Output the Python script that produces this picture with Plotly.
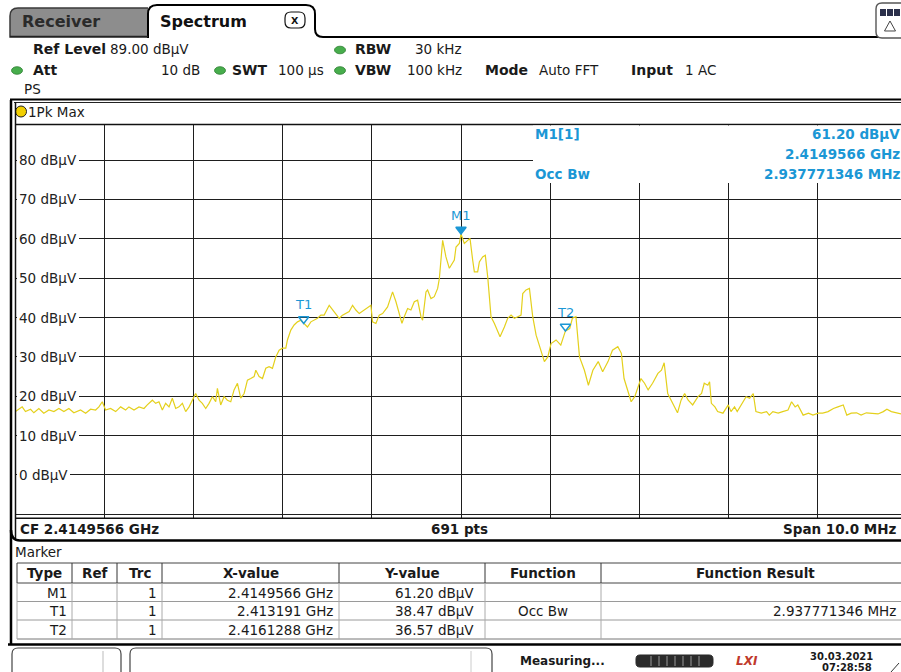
import plotly.graph_objects as go

# ---------------- data ----------------
CF_GHZ = 2.4149566
SPAN_MHZ = 10.0
REF_LEVEL = 89.0
RANGE_DB = 100.0

offset_mhz = [
    0.000, 0.075, 0.112, 0.169, 0.206, 0.262, 0.318, 0.375, 0.431, 0.487,
    0.543, 0.599, 0.655, 0.730, 0.787, 0.843, 0.899, 0.936, 0.974, 1.011,
    1.067, 1.124, 1.180, 1.236, 1.273, 1.330, 1.386, 1.442, 1.479, 1.536,
    1.573, 1.610, 1.648, 1.685, 1.723, 1.760, 1.798, 1.835, 1.873, 1.910,
    1.948, 1.985, 2.022, 2.060, 2.097, 2.135, 2.172, 2.210, 2.247, 2.266,
    2.303, 2.341, 2.378, 2.416, 2.453, 2.491, 2.528, 2.566, 2.603, 2.640,
    2.678, 2.697, 2.734, 2.772, 2.809, 2.846, 2.884, 2.921, 2.959, 2.996,
    3.034, 3.052, 3.090, 3.127, 3.165, 3.202, 3.234, 3.277, 3.315, 3.352,
    3.390, 3.427, 3.464, 3.521, 3.577, 3.633, 3.670, 3.708, 3.745, 3.783,
    3.820, 3.858, 3.914, 3.989, 4.007, 4.045, 4.082, 4.120, 4.176, 4.232,
    4.270, 4.307, 4.337, 4.363, 4.401, 4.438, 4.476, 4.513, 4.551, 4.569,
    4.607, 4.625, 4.663, 4.700, 4.738, 4.757, 4.794, 4.831, 4.869, 4.925,
    4.944, 4.981, 5.000, 5.037, 5.075, 5.101, 5.131, 5.150, 5.187, 5.206,
    5.243, 5.273, 5.300, 5.337, 5.375, 5.438, 5.487, 5.524, 5.562, 5.599,
    5.637, 5.674, 5.693, 5.730, 5.768, 5.805, 5.843, 5.880, 5.936, 5.974,
    6.011, 6.067, 6.120, 6.172, 6.220, 6.250, 6.290, 6.330, 6.385, 6.430,
    6.480, 6.540, 6.590, 6.650, 6.700, 6.760, 6.800, 6.830, 6.870, 6.910,
    6.950, 6.990, 7.020, 7.060, 7.100, 7.150, 7.210, 7.250, 7.280, 7.320,
    7.380, 7.430, 7.470, 7.510, 7.550, 7.600, 7.660, 7.700, 7.730, 7.770,
    7.790, 7.810, 7.850, 7.880, 7.940, 8.000, 8.030, 8.070, 8.100, 8.150,
    8.200, 8.240, 8.280, 8.310, 8.370, 8.430, 8.460, 8.500, 8.560, 8.610,
    8.670, 8.710, 8.750, 8.780, 8.840, 8.900, 8.950, 9.010, 9.060, 9.120,
    9.180, 9.230, 9.290, 9.330, 9.380, 9.440, 9.490, 9.550, 9.610, 9.680,
    9.740, 9.780, 9.830, 9.890, 9.940, 10.000,
]
level_dbuv = [
    16.1, 17.3, 16.1, 16.7, 15.8, 16.9, 15.7, 16.5, 16.1, 16.9,
    16.1, 16.9, 15.8, 16.5, 15.7, 16.7, 16.5, 17.3, 18.6, 16.5,
    16.9, 16.1, 17.3, 16.5, 17.3, 16.5, 17.3, 16.9, 17.8, 19.0,
    18.2, 18.6, 16.5, 18.2, 17.3, 19.5, 16.9, 17.3, 18.2, 16.1,
    17.3, 19.0, 20.7, 19.0, 18.2, 16.9, 18.2, 19.9, 18.6, 22.0,
    17.8, 19.9, 19.0, 18.6, 21.6, 23.3, 19.5, 20.7, 24.1, 24.5,
    25.0, 26.6, 25.0, 24.5, 27.1, 27.5, 27.1, 30.0, 31.7, 32.2,
    32.2, 34.3, 36.8, 38.1, 38.9, 39.3, 38.5, 37.6, 38.9, 39.3,
    39.8, 40.6, 40.6, 43.1, 41.5, 39.8, 40.6, 41.0, 41.5, 43.1,
    41.9, 41.0, 41.9, 43.1, 38.9, 38.5, 40.6, 41.0, 42.7, 46.5,
    44.0, 41.0, 38.5, 40.2, 42.3, 41.9, 44.0, 44.4, 40.2, 39.3,
    46.5, 47.0, 44.8, 45.3, 47.4, 49.9, 59.6, 55.4, 52.5, 54.6,
    57.9, 58.8, 61.2, 58.8, 59.6, 60.1, 54.6, 51.6, 51.6, 54.1,
    55.4, 55.8, 50.3, 40.2, 38.5, 35.1, 37.6, 39.8, 40.6, 39.8,
    40.2, 40.6, 46.1, 47.0, 47.4, 40.2, 35.5, 33.0, 28.8, 30.0,
    33.4, 34.3, 33.0, 36.6, 37.2, 39.8, 40.2, 30.0, 26.6, 22.8,
    26.6, 28.8, 26.2, 28.8, 31.7, 32.6, 30.9, 24.5, 21.6, 18.6,
    19.9, 22.4, 24.5, 23.3, 21.6, 23.3, 25.8, 26.6, 28.5, 20.7,
    18.2, 15.8, 19.0, 20.7, 19.0, 17.8, 19.9, 20.7, 23.3, 22.8,
    23.7, 18.2, 17.3, 16.1, 15.7, 17.8, 16.1, 17.3, 16.1, 18.2,
    19.9, 19.5, 20.7, 16.1, 15.7, 16.1, 15.2, 16.1, 15.7, 16.1,
    16.5, 18.6, 17.3, 17.8, 15.2, 15.7, 15.2, 15.7, 15.7, 16.1,
    16.9, 17.3, 17.8, 15.2, 15.7, 15.8, 15.2, 15.8, 15.7, 15.5,
    16.1, 16.7, 16.1, 15.8, 15.5, 15.6,
]

marker_names = ["M1", "T1", "T2"]
marker_freq_ghz = [2.4149566, 2.413191, 2.4161288]
marker_level = [61.20, 38.47, 36.57]
marker_symbols = ["triangle-up", "triangle-up-open", "triangle-up-open"]

y_tick_values = [80, 70, 60, 50, 40, 30, 20, 10, 0]

tbl_headers = ["Type", "Ref", "Trc", "X-value", "Y-value", "Function", "Function Result"]
tbl_type = ["M1", "T1", "T2"]
tbl_ref = ["", "", ""]
tbl_trc = ["1", "1", "1"]
tbl_x = ["2.4149566 GHz", "2.413191 GHz", "2.4161288 GHz"]
tbl_y = ["61.20 dBµV", "38.47 dBµV", "36.57 dBµV"]
tbl_func = ["", "Occ Bw", ""]
tbl_result = ["", "2.937771346 MHz", ""]

# ---------------- layout helpers ----------------
W, H = 901, 672
FONT = "DejaVu Sans"
BLUE = "#1b97d5"
TRACE = "#e4d01c"

PLOT_L, PLOT_T, PLOT_B = 15.5, 124.6, 518.3
PX_PER_MHZ = 89.1

f_start = CF_GHZ - SPAN_MHZ / 2000.0
f_view_end = f_start + (W - PLOT_L) / PX_PER_MHZ / 1000.0
freq_ghz = [f_start + o / 1000.0 for o in offset_mhz]

shapes = []
annots = []


def px(x):
    return x / W


def py(y):
    return 1 - y / H


def line(x0, y0, x1, y1, color="black", w=1.0):
    shapes.append(dict(type="line", xref="paper", yref="paper",
                       x0=px(x0), y0=py(y0), x1=px(x1), y1=py(y1),
                       line=dict(color=color, width=w), layer="above"))


def rect(x0, y0, x1, y1, fill="white", color="black", w=0, layer="above"):
    shapes.append(dict(type="rect", xref="paper", yref="paper",
                       x0=px(x0), y0=py(y0), x1=px(x1), y1=py(y1),
                       fillcolor=fill, line=dict(color=color, width=w), layer=layer))


def path(cmds, fill="rgba(0,0,0,0)", color="black", w=1.0):
    out = []
    for c in cmds:
        op = c[0]
        nums = c[1:]
        pts = []
        for i in range(0, len(nums), 2):
            pts.append(f"{px(nums[i]):.5f},{py(nums[i+1]):.5f}")
        out.append(op + " " + " ".join(pts))
    shapes.append(dict(type="path", xref="paper", yref="paper", path=" ".join(out),
                       fillcolor=fill, line=dict(color=color, width=w), layer="above"))


def rrect(x0, y0, x1, y1, r, fill="white", color="black", w=1.0):
    path([("M", x0 + r, y0), ("L", x1 - r, y0), ("Q", x1, y0, x1, y0 + r),
          ("L", x1, y1 - r), ("Q", x1, y1, x1 - r, y1), ("L", x0 + r, y1),
          ("Q", x0, y1, x0, y1 - r), ("L", x0, y0 + r), ("Q", x0, y0, x0 + r, y0), ("Z",)],
         fill=fill, color=color, w=w)


def text(x, y, s, size=13.5, bold=False, color="#1a1a1a", anchor="left"):
    annots.append(dict(xref="paper", yref="paper", x=px(x), y=py(y),
                       text=f"<b>{s}</b>" if bold else s, showarrow=False,
                       xanchor=anchor, yanchor="middle", borderpad=0, borderwidth=0,
                       font=dict(size=size, color=color, family=FONT)))


def led(x, y):
    shapes.append(dict(type="circle", xref="paper", yref="paper",
                       x0=px(x - 5.5), x1=px(x + 5.5), y0=py(y - 3.8), y1=py(y + 3.8),
                       fillcolor="#47ad4c", line=dict(color="#2f7f33", width=0.8), layer="above"))

# ---------------- tabs ----------------
path([("M", 10, 37), ("L", 10, 16), ("Q", 10, 8, 18, 8), ("L", 150, 8), ("L", 150, 37), ("Z",)],
     fill="#8d8d8d", color="#3a3a3a", w=1.5)
rect(148, 6, 315, 38, fill="white", w=0)
path([("M", 148, 38), ("L", 148, 14), ("Q", 148, 5, 157, 5), ("L", 306, 5), ("Q", 315, 5, 315, 14),
      ("L", 315, 29), ("Q", 315, 37, 323, 37), ("L", 901, 37)], color="black", w=2)
line(10, 36.5, 148, 36.5, color="#222", w=1.5)
text(22, 22, "Receiver", size=16, bold=True, color="#2a2a2a")
text(160, 21, "Spectrum", size=16, bold=True, color="#111")
rrect(285, 12, 305, 28, 6, fill="white", color="#111", w=1.2)
text(295, 20, "X", size=9.5, bold=True, color="#111", anchor="center")
# top-right icon
rrect(876, 3, 910, 38, 6, fill="white", color="#555", w=1.4)
rect(880, 9, 900, 16, fill="#2a2f4a", color="#2a2f4a", w=0)
line(886.5, 9, 886.5, 16, color="white", w=1)
line(893.5, 9, 893.5, 16, color="white", w=1)
path([("M", 890, 21), ("L", 884.5, 31), ("L", 895.5, 31), ("Z",)], color="#444", w=1)

# ---------------- header ----------------
text(33, 49, "Ref Level", size=14, bold=True)
text(110, 49, "89.00 dBµV", size=13.5)
led(340, 50)
text(355, 49, "RBW", size=14, bold=True)
text(462, 49, "30 kHz", size=13.5, anchor="right")
led(17, 70.5)
text(33, 70, "Att", size=14, bold=True)
text(200, 70, "10 dB", size=13.5, anchor="right")
led(220, 70.5)
text(232, 70, "SWT", size=14, bold=True)
text(278, 70, "100 µs", size=13.5)
led(340, 70.5)
text(355, 70, "VBW", size=14, bold=True)
text(462, 70, "100 kHz", size=13.5, anchor="right")
text(485, 70, "Mode", size=14, bold=True)
text(539, 70, "Auto FFT", size=13.5)
text(631, 70, "Input", size=14, bold=True)
text(685, 70, "1 AC", size=13.5)
text(24, 89, "PS", size=13.5)
line(10, 99.5, 901, 99.5, color="black", w=2)
line(14, 102.5, 901, 102.5, color="#222", w=1)

# 1Pk Max row
shapes.append(dict(type="circle", xref="paper", yref="paper",
                   x0=px(15.5), x1=px(26.5), y0=py(106), y1=py(117),
                   fillcolor="#f2cf00", line=dict(color="#222", width=1), layer="above"))
text(28, 111.5, "1Pk Max", size=13.5)

# frame lines
line(11, 100, 11, 645, color="black", w=2.5)
line(PLOT_L, 102, PLOT_L, 540, color="#111", w=1.5)
line(PLOT_L, PLOT_T, 901, PLOT_T, color="#111", w=1.5)
line(PLOT_L, PLOT_B, 901, PLOT_B, color="#111", w=1.5)

# marker info box (top right of diagram)
rect(533, PLOT_T + 1, 901, 183, fill="white", w=0)
text(535, 134, "M1[1]", size=13.5, bold=True, color=BLUE)
text(900, 134, "61.20 dBµV", size=13.5, bold=True, color=BLUE, anchor="right")
text(900, 154, "2.4149566 GHz", size=13.5, bold=True, color=BLUE, anchor="right")
text(535, 174, "Occ Bw", size=13.5, bold=True, color=BLUE)
text(900, 174, "2.937771346 MHz", size=13.5, bold=True, color=BLUE, anchor="right")

# y tick labels (inside the diagram, on white)
for v in y_tick_values:
    annots.append(dict(xref="paper", yref="y", x=px(16.5), y=v, xanchor="left", yanchor="middle",
                       text=f"{v} dBµV", showarrow=False, bgcolor="white", borderpad=2, borderwidth=0,
                       font=dict(size=13.5, color="#222", family=FONT)))

# marker labels
for name, f, lv in zip(marker_names, marker_freq_ghz, marker_level):
    annots.append(dict(xref="x", yref="y", x=f, y=lv, text=name, showarrow=False,
                       yshift=19, xanchor="center", yanchor="middle",
                       font=dict(size=13, color=BLUE, family=FONT)))

# ---------------- bottom info bar ----------------
text(20, 528.5, "CF 2.4149566 GHz", size=13.5, bold=True)
text(459, 528.5, "691 pts", size=13.5, bold=True, anchor="center")
text(897, 528.5, "Span 10.0 MHz", size=13.5, bold=True, anchor="right")
path([("M", 11, 530), ("Q", 11, 540.5, 20, 540.5), ("L", 901, 540.5)], color="black", w=2.5)

# ---------------- marker table ----------------
text(15, 552, "Marker", size=13.5)
col_edges = [17, 72, 117, 162, 339, 485, 601, 910]
row_edges = [563, 583, 601.5, 620, 639]
for i, hname in enumerate(tbl_headers):
    text((col_edges[i] + col_edges[i + 1]) / 2, 573, hname, size=13.5, bold=True, anchor="center")
for ri, y0 in enumerate(row_edges[:-1]):
    line(17, y0, 901, y0, color="#9a9a9a" if ri > 1 else "#444", w=1)
line(17, row_edges[-1], 901, row_edges[-1], color="#777", w=1)
for ci, cx in enumerate(col_edges[:-1]):
    line(cx, 563, cx, 583, color="#333", w=1)
    line(cx, 583, cx, 639, color="#aaaaaa", w=1)
rows = list(zip(tbl_type, tbl_ref, tbl_trc, tbl_x, tbl_y, tbl_func, tbl_result))
for ri, r in enumerate(rows):
    yc = (row_edges[ri + 1] + row_edges[ri + 2]) / 2 + 0.5
    text(col_edges[1] - 5, yc, r[0], anchor="right")
    text(col_edges[2] - 5, yc, r[1], anchor="right")
    text(col_edges[3] - 5, yc, r[2], anchor="right")
    text(col_edges[4] - 6, yc, r[3], anchor="right")
    text(col_edges[5] - 11, yc, r[4], anchor="right")
    text((col_edges[5] + col_edges[6]) / 2, yc, r[5], anchor="center")
    text(896, yc, r[6], anchor="right")

# ---------------- status bar ----------------
line(8, 644.5, 901, 644.5, color="black", w=2.5)
rrect(12, 648, 121, 680, 6, fill="white", color="#444", w=1.2)
line(103, 651, 103, 672, color="#bbb", w=1)
rrect(130, 648, 492, 680, 6, fill="white", color="#444", w=1.2)
line(471, 651, 471, 672, color="#ccc", w=1)
text(520, 661, "Measuring...", size=12, bold=True)
rrect(636, 655, 713, 667, 4, fill="#2b2b2b", color="#2b2b2b", w=1)
for sx in [651, 659, 667, 675, 683, 691, 699]:
    line(sx, 656, sx, 666, color="#9a9a9a", w=1)
text(747, 661, "<i>LXI</i>", size=12, bold=True, color="#c0392b", anchor="center")
text(873, 656, "30.03.2021", size=10, bold=True, anchor="right")
text(872, 667, "07:28:58", size=10, bold=True, anchor="right")
line(891, 672, 899, 663, color="#333", w=1)

# ---------------- figure ----------------
fig = go.Figure()
fig.add_trace(go.Scatter(x=freq_ghz, y=level_dbuv, mode="lines",
                         line=dict(color=TRACE, width=1.2), hoverinfo="skip", showlegend=False))
fig.add_trace(go.Scatter(x=marker_freq_ghz, y=marker_level, mode="markers",
                         marker=dict(symbol=marker_symbols, angle=180, standoff=4.5, size=9,
                                     color=BLUE, line=dict(color=BLUE, width=1.4)),
                         hoverinfo="skip", showlegend=False))

fig.update_layout(
    width=W, height=H, autosize=False,
    margin=dict(l=0, r=0, t=0, b=0),
    paper_bgcolor="white", plot_bgcolor="white",
    showlegend=False, hovermode=False,
    font=dict(family=FONT, size=13),
    xaxis=dict(domain=[PLOT_L / W, 1], range=[f_start, f_view_end],
               tickmode="linear", tick0=f_start, dtick=0.001,
               showgrid=True, gridcolor="#1e1e1e", gridwidth=1.2,
               showticklabels=False, ticks="", zeroline=False, showline=False, fixedrange=True),
    yaxis=dict(domain=[1 - PLOT_B / H, 1 - PLOT_T / H], range=[REF_LEVEL - RANGE_DB, REF_LEVEL],
               tickmode="linear", tick0=0, dtick=10,
               showgrid=True, gridcolor="#1e1e1e", gridwidth=1.2,
               showticklabels=False, ticks="", zeroline=False, showline=False, fixedrange=True),
    shapes=shapes,
    annotations=annots,
)

fig.write_html("out.html", config={"displayModeBar": False},
               post_script="document.body.style.margin='0px';document.body.style.overflow='hidden';")
